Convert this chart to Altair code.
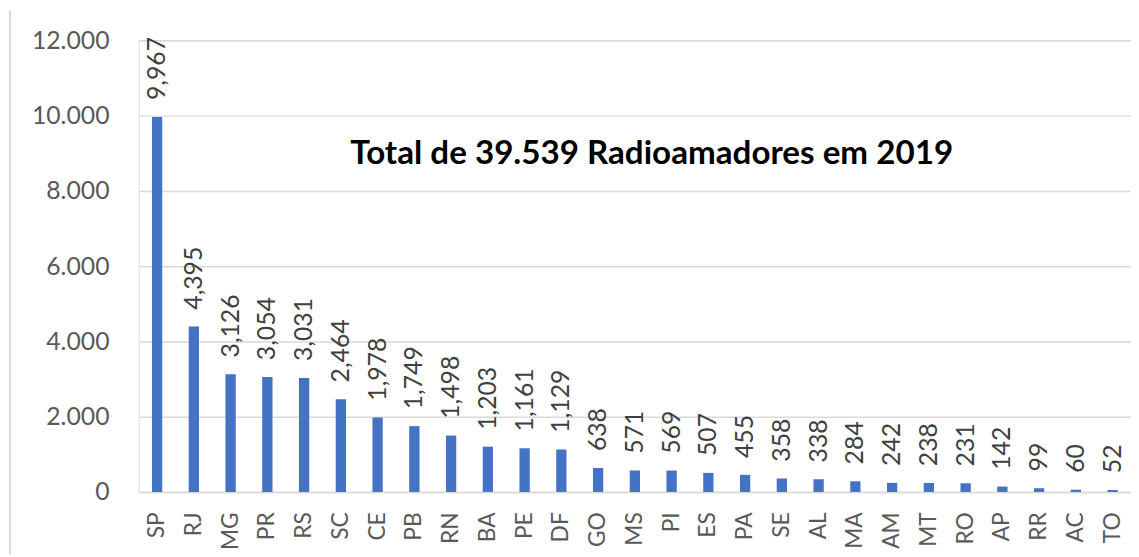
import altair as alt
import pandas as pd

estados = ["SP", "RJ", "MG", "PR", "RS", "SC", "CE", "PB", "RN", "BA", "PE", "DF", "GO", "MS",
           "PI", "ES", "PA", "SE", "AL", "MA", "AM", "MT", "RO", "AP", "RR", "AC", "TO"]
valores = [9967, 4395, 3126, 3054, 3031, 2464, 1978, 1749, 1498, 1203, 1161, 1129, 638, 571,
           569, 507, 455, 358, 338, 284, 242, 238, 231, 142, 99, 60, 52]
titulo = "Total de 39.539 Radioamadores em 2019"

df = pd.DataFrame({"estado": estados, "valor": valores})

FONT = "Lato"
W, H = 1002, 456
PAD_L, PAD_T, PAD_B = 132, 30, 63

x_enc = alt.X("estado:N", sort=estados, title=None,
              scale=alt.Scale(paddingInner=0.72, paddingOuter=0.36),
              axis=alt.Axis(labelAngle=-90, labelFont=FONT, labelFontSize=23,
                            labelColor="#595959", ticks=False, domain=True,
                            domainColor="#d9d9d9", domainWidth=1.5, labelPadding=20,
                            labelBaseline="middle"))
y_enc = alt.Y("valor:Q", title=None,
              scale=alt.Scale(domain=[0, 12000]),
              axis=alt.Axis(values=[0, 2000, 4000, 6000, 8000, 10000, 12000],
                            labelExpr="replace(format(datum.value, ','), ',', '.')",
                            labelFont=FONT, labelFontSize=25, labelColor="#595959",
                            ticks=False, domain=False, gridColor="#d9d9d9",
                            gridWidth=1.5, labelPadding=30))

bars = alt.Chart(df).mark_bar(color="#4472C4").encode(x=x_enc, y=y_enc)

labels = alt.Chart(df).mark_text(angle=270, align="left", baseline="middle", dx=17,
                                 font=FONT, fontSize=25, color="#404040").encode(
    x=alt.X("estado:N", sort=estados),
    y="valor:Q",
    text=alt.Text("valor:Q", format=","),
)

title_df = pd.DataFrame({"t": [titulo]})
title_mark = alt.Chart(title_df).mark_text(font=FONT, fontSize=33.5, fontWeight="bold",
                                           color="#000000", align="center",
                                           baseline="alphabetic").encode(
    x=alt.value(518), y=alt.value(125), text="t:N")

frame = alt.Chart(title_df).mark_rule(color="#d9d9d9", strokeWidth=2).encode(
    x=alt.value(-130), y=alt.value(-PAD_T), y2=alt.value(H + PAD_B))

chart = alt.layer(bars, labels, title_mark, frame).properties(
    width=W, height=H,
    padding={"left": PAD_L, "top": PAD_T, "right": 0, "bottom": PAD_B},
    autosize=alt.AutoSizeParams(type="none"),
).configure_view(stroke=None).configure(background="white")

chart.save("out.html", embed_options={"renderer": "svg", "actions": False})
